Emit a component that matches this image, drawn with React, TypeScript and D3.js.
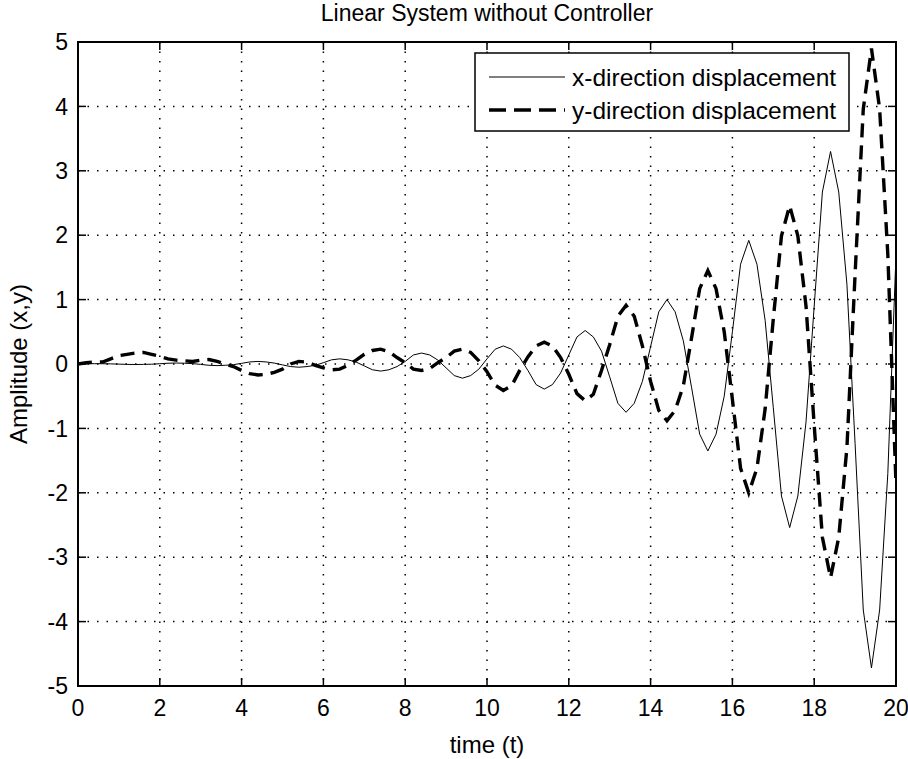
import React from 'react';
import * as d3 from 'd3';

// sample times (s)
const time = [
  0, 0.2, 0.4, 0.6, 0.8, 1, 1.2, 1.4, 1.6, 1.8,
  2, 2.2, 2.4, 2.6, 2.8, 3, 3.2, 3.4, 3.6, 3.8,
  4, 4.2, 4.4, 4.6, 4.8, 5, 5.2, 5.4, 5.6, 5.8,
  6, 6.2, 6.4, 6.6, 6.8, 7, 7.2, 7.4, 7.6, 7.8,
  8, 8.2, 8.4, 8.6, 8.8, 9, 9.2, 9.4, 9.6, 9.8,
  10, 10.2, 10.4, 10.6, 10.8, 11, 11.2, 11.4, 11.6, 11.8,
  12, 12.2, 12.4, 12.6, 12.8, 13, 13.2, 13.4, 13.6, 13.8,
  14, 14.2, 14.4, 14.6, 14.8, 15, 15.2, 15.4, 15.6, 15.8,
  16, 16.2, 16.4, 16.6, 16.8, 17, 17.2, 17.4, 17.6, 17.8,
  18, 18.2, 18.4, 18.6, 18.8, 19, 19.2, 19.4, 19.6, 19.8,
  20,
];

// x-direction displacement
const xDisp = [
  0.002, 0.004, 0.005, 0.004, 0.002, -0.002, -0.006, -0.008, -0.006, -0.003,
  0.004, 0.012, 0.015, 0.012, 0.006, -0.006, -0.02, -0.025, -0.02, -0.01,
  0.01, 0.032, 0.04, 0.032, 0.014, -0.014, -0.04, -0.05, -0.04, -0.02,
  0.02, 0.065, 0.08, 0.065, 0.03, -0.03, -0.09, -0.11, -0.09, -0.04,
  0.04, 0.14, 0.17, 0.14, 0.06, -0.06, -0.18, -0.22, -0.18, -0.08,
  0.08, 0.23, 0.28, 0.23, 0.1, -0.1, -0.32, -0.39, -0.32, -0.14,
  0.14, 0.42, 0.52, 0.42, 0.2, -0.2, -0.61, -0.75, -0.61, -0.27,
  0.27, 0.81, 1.0, 0.81, 0.36, -0.36, -1.09, -1.35, -1.09, -0.5,
  0.5, 1.55, 1.92, 1.55, 0.68, -0.68, -2.05, -2.54, -2.05, -0.9,
  0.9, 2.67, 3.3, 2.67, 1.24, -1.24, -3.82, -4.72, -3.82, -1.7,
  1.7,
];

// y-direction displacement
const yDisp = [
  0, 0.02, 0.03, 0.03, 0.08, 0.13, 0.15, 0.17, 0.18, 0.15,
  0.12, 0.08, 0.06, 0.05, 0.04, 0.06, 0.07, 0.04, 0.0, -0.04,
  -0.1, -0.15, -0.17, -0.16, -0.13, -0.08, 0.0, 0.04, 0.03, -0.02,
  -0.06, -0.09, -0.08, -0.02, 0.06, 0.15, 0.21, 0.23, 0.19, 0.1,
  0.02, -0.08, -0.1, -0.07, 0.02, 0.1, 0.2, 0.23, 0.18, 0.05,
  -0.12, -0.33, -0.41, -0.34, -0.1, 0.11, 0.28, 0.34, 0.28, 0.1,
  -0.16, -0.46, -0.57, -0.47, -0.1, 0.3, 0.74, 0.91, 0.74, 0.28,
  -0.27, -0.72, -0.88, -0.72, -0.34, 0.4, 1.17, 1.45, 1.17, 0.5,
  -0.55, -1.62, -2.0, -1.62, -0.7, 0.7, 1.99, 2.46, 1.99, 0.9,
  -0.95, -2.69, -3.32, -2.69, -1.3, 1.4, 3.96, 4.9, 3.96, 1.7,
  -1.87,
];

const xTicks = [0, 2, 4, 6, 8, 10, 12, 14, 16, 18, 20];
const yTicks = [-5, -4, -3, -2, -1, 0, 1, 2, 3, 4, 5];
const legendLabels = ['x-direction displacement', 'y-direction displacement'];

const W = 908;
const H = 759;
const left = 78, right = 896, top = 42, bottom = 686;
const font = '"Liberation Sans", Arial, Helvetica, sans-serif';

export default function App() {
  const x = d3.scaleLinear().domain([0, 20]).range([left, right]);
  const y = d3.scaleLinear().domain([-5, 5]).range([bottom, top]);

  const line = d3.line<number>()
    .x((d, i) => x(time[i]))
    .y(d => y(d));

  const tickLen = 8;

  return (
    <svg width={W} height={H} style={{ position: 'absolute', left: 0, top: 0, background: '#fff' }}
      fontFamily={font}>
      <defs>
        <clipPath id="plotClip">
          <rect x={left} y={top} width={right - left} height={bottom - top} />
        </clipPath>
      </defs>
      <rect x={0} y={0} width={W} height={H} fill="#fff" />

      {/* grid */}
      <g stroke="#000" strokeWidth={1.5} strokeDasharray="1.5,8" fill="none">
        {xTicks.filter(t => t > 0 && t < 20).map(t => (
          <line key={'gx' + t} x1={x(t)} x2={x(t)} y1={top} y2={bottom} />
        ))}
        {yTicks.filter(t => t > -5 && t < 5).map(t => (
          <line key={'gy' + t} x1={left} x2={right} y1={y(t)} y2={y(t)} />
        ))}
      </g>

      {/* ticks on all four sides, pointing inward */}
      <g stroke="#000" strokeWidth={1.5}>
        {xTicks.map(t => (
          <g key={'tx' + t}>
            <line x1={x(t)} x2={x(t)} y1={bottom} y2={bottom - tickLen} />
            <line x1={x(t)} x2={x(t)} y1={top} y2={top + tickLen} />
          </g>
        ))}
        {yTicks.map(t => (
          <g key={'ty' + t}>
            <line x1={left} x2={left + tickLen} y1={y(t)} y2={y(t)} />
            <line x1={right} x2={right - tickLen} y1={y(t)} y2={y(t)} />
          </g>
        ))}
      </g>

      {/* data */}
      <g clipPath="url(#plotClip)" fill="none" stroke="#000">
        <path d={line(xDisp) || ''} strokeWidth={1} />
        <path d={line(yDisp) || ''} strokeWidth={3.4} strokeDasharray="14,8" />
      </g>

      {/* frame */}
      <rect x={left} y={top} width={right - left} height={bottom - top} fill="none" stroke="#000" strokeWidth={2} />

      {/* tick labels */}
      <g fontSize={23} fill="#000">
        {xTicks.map(t => (
          <text key={'lx' + t} x={x(t)} y={716} textAnchor="middle">{t}</text>
        ))}
        {yTicks.map(t => (
          <text key={'ly' + t} x={68} y={y(t)} dy="0.36em" textAnchor="end">{t}</text>
        ))}
      </g>

      {/* titles */}
      <text x={(left + right) / 2} y={21} textAnchor="middle" fontSize={23}>Linear System without Controller</text>
      <text x={(left + right) / 2} y={753} textAnchor="middle" fontSize={24}>time (t)</text>
      <text transform={`translate(27,${(top + bottom) / 2}) rotate(-90)`} textAnchor="middle" fontSize={24}>Amplitude (x,y)</text>

      {/* legend */}
      <g>
        <rect x={475} y={53} width={374} height={78} fill="#fff" stroke="#000" strokeWidth={1.5} />
        <line x1={489} x2={565} y1={77} y2={77} stroke="#000" strokeWidth={1} />
        <line x1={489} x2={565} y1={110} y2={110} stroke="#000" strokeWidth={3.4} strokeDasharray="17,8" />
        <text x={572} y={77} dy="0.36em" fontSize={24.5}>{legendLabels[0]}</text>
        <text x={572} y={110} dy="0.36em" fontSize={24.5}>{legendLabels[1]}</text>
      </g>
    </svg>
  );
}
